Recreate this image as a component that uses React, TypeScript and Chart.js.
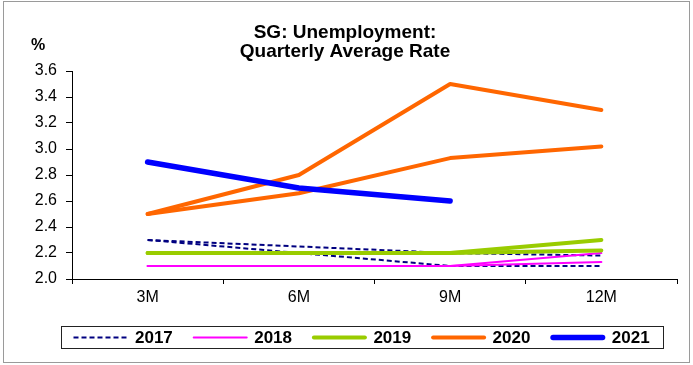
import React, { useEffect, useRef } from "react";
import { Chart, registerables } from "chart.js";

Chart.register(...registerables);

const categories = ["3M", "6M", "9M", "12M"];
const yTicks = [2.0, 2.2, 2.4, 2.6, 2.8, 3.0, 3.2, 3.4, 3.6];

const s2017a = [2.3, 2.2, 2.1, 2.1];
const s2017b = [2.3, 2.25, 2.2, 2.18];
const s2018a = [2.1, 2.1, 2.1, 2.2];
const s2018b = [2.1, 2.1, 2.1, 2.13];
const s2019a = [2.2, 2.2, 2.2, 2.3];
const s2019b = [2.2, 2.2, 2.2, 2.22];
const s2020a = [2.5, 2.8, 3.5, 3.3];
const s2020b = [2.5, 2.66, 2.93, 3.02];
const s2021a = [2.9, 2.7, 2.6, null];

const legendNames = ["2017", "2018", "2019", "2020", "2021"];
const titleLines = ["SG: Unemployment:", "Quarterly Average Rate"];

const FONT = "Arial, 'Liberation Sans', sans-serif";

type Style = { color: string; width: number; dash: number[] };
const styles: Style[] = [
  { color: "#000080", width: 2, dash: [5, 3] },
  { color: "#FF00FF", width: 2, dash: [] },
  { color: "#99CC00", width: 4, dash: [] },
  { color: "#FF6600", width: 4, dash: [] },
  { color: "#0000FF", width: 5.5, dash: [] },
];

const series: { data: (number | null)[]; s: number }[] = [
  { data: s2017a, s: 0 },
  { data: s2017b, s: 0 },
  { data: s2018a, s: 1 },
  { data: s2018b, s: 1 },
  { data: s2019a, s: 2 },
  { data: s2019b, s: 2 },
  { data: s2020a, s: 3 },
  { data: s2020b, s: 3 },
  { data: s2021a, s: 4 },
];

const decorPlugin = {
  id: "decor",
  afterDraw(chart: any) {
    const ctx = chart.ctx;
    ctx.save();
    // outer frame
    ctx.strokeStyle = "#9a9a9a";
    ctx.lineWidth = 1;
    ctx.strokeRect(3.5, 1.5, 686, 361);
    // title
    ctx.fillStyle = "#000";
    ctx.font = `bold 19px ${FONT}`;
    ctx.textAlign = "center";
    ctx.textBaseline = "alphabetic";
    ctx.fillText(titleLines[0], 345, 38);
    ctx.fillText(titleLines[1], 345, 57);
    // unit
    ctx.font = `bold 16px ${FONT}`;
    ctx.textAlign = "left";
    ctx.fillText("%", 31, 50);
    // legend
    ctx.strokeStyle = "#222";
    ctx.lineWidth = 1;
    ctx.strokeRect(61.5, 326.5, 602, 22);
    const cy = 337.5;
    legendNames.forEach((name, k) => {
      const st = styles[k];
      const x0 = 73.5 + k * 119.2;
      ctx.beginPath();
      ctx.strokeStyle = st.color;
      ctx.lineWidth = st.width;
      ctx.lineCap = st.dash.length ? "butt" : "round";
      ctx.setLineDash(st.dash);
      ctx.moveTo(x0 + (st.dash.length ? 0 : st.width / 2), cy);
      ctx.lineTo(x0 + 55 - (st.dash.length ? 0 : st.width / 2), cy);
      ctx.stroke();
      ctx.setLineDash([]);
      ctx.fillStyle = "#000";
      ctx.font = `bold 17px ${FONT}`;
      ctx.textAlign = "left";
      ctx.textBaseline = "middle";
      ctx.fillText(name, x0 + 61.5, cy + 1);
    });
    ctx.restore();
  },
};

export default function App() {
  const ref = useRef<HTMLCanvasElement | null>(null);
  useEffect(() => {
    if (!ref.current) return;
    const datasets = series.map((d, i) => {
      const st = styles[d.s];
      return {
        label: legendNames[d.s],
        data: d.data,
        borderColor: st.color,
        backgroundColor: st.color,
        borderWidth: st.width,
        borderDash: st.dash,
        borderCapStyle: st.dash.length ? "butt" : "round",
        borderJoinStyle: "round",
        pointRadius: 0,
        pointHoverRadius: 0,
        tension: 0,
        fill: false,
        spanGaps: false,
        order: 20 - i,
      };
    });
    const chart = new Chart(ref.current, {
      type: "line",
      data: { labels: categories, datasets: datasets as any },
      plugins: [decorPlugin],
      options: {
        animation: false,
        responsive: false,
        maintainAspectRatio: false,
        layout: { padding: { left: 0, top: 71, right: 16, bottom: 56 } },
        plugins: {
          legend: { display: false },
          title: { display: false },
          tooltip: { enabled: false },
        },
        scales: {
          x: {
            type: "category",
            offset: true,
            grid: {
              offset: true,
              drawOnChartArea: false,
              drawTicks: true,
              tickLength: 5,
              color: "#000",
            },
            border: { display: true, color: "#000", width: 1 },
            ticks: {
              color: "#000",
              font: { family: FONT, size: 16 },
              padding: 4,
              maxRotation: 0,
            },
            afterFit: (s: any) => {
              s.height = 30;
            },
          },
          y: {
            min: 2.0,
            max: 3.6,
            afterBuildTicks: (s: any) => {
              s.ticks = yTicks.map((v) => ({ value: v }));
            },
            grid: {
              drawOnChartArea: false,
              drawTicks: true,
              tickLength: 6,
              color: "#000",
            },
            border: { display: true, color: "#000", width: 1 },
            ticks: {
              color: "#000",
              font: { family: FONT, size: 16 },
              padding: 9,
              callback: (v: any) => Number(v).toFixed(1),
            },
            afterFit: (s: any) => {
              s.width = 72;
            },
          },
        },
      },
    });
    return () => chart.destroy();
  }, []);
  return (
    <div style={{ position: "fixed", left: 0, top: 0, width: 693, height: 365, background: "#fff" }}>
      <canvas ref={ref} width={693} height={365} style={{ display: "block" }} />
    </div>
  );
}
